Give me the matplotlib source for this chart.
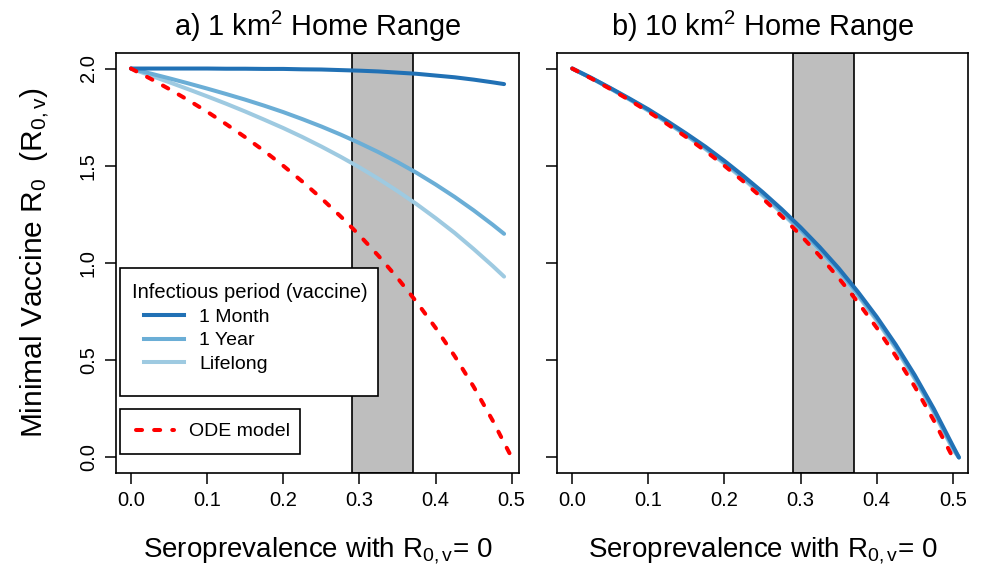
import matplotlib
matplotlib.use("Agg")
import matplotlib.pyplot as plt
from matplotlib.lines import Line2D
from matplotlib.patches import Rectangle
from matplotlib.legend_handler import HandlerLine2D

plt.rcParams['font.family'] = ['Liberation Sans', 'DejaVu Sans']
plt.rcParams['mathtext.fontset'] = 'custom'
plt.rcParams['mathtext.rm'] = 'Liberation Sans'
plt.rcParams['mathtext.it'] = 'Liberation Sans:italic'

# seroprevalence grids
x_left = [0, .025, .05, .075, .1, .125, .15, .175, .2, .225, .25, .275,
          .3, .325, .35, .375, .4, .425, .45, .475, .49]
x_ode = [0, .025, .05, .075, .1, .125, .15, .175, .2, .225, .25, .275,
         .3, .325, .35, .375, .4, .425, .45, .475, .5]
x_right = [0, .025, .05, .075, .1, .125, .15, .175, .2, .225, .25, .275,
           .3, .325, .35, .375, .4, .425, .45, .475, .5, .508]

# a) 1 km2 home range
month_1km = [2.000, 2.000, 2.000, 2.000, 2.000, 1.999, 1.999, 1.998, 1.998, 1.996, 1.995,
             1.992, 1.989, 1.985, 1.979, 1.973, 1.964, 1.955, 1.943, 1.929, 1.920]
year_1km = [2.0, 1.975, 1.950, 1.924, 1.897, 1.869, 1.840, 1.809, 1.776, 1.740, 1.702,
            1.661, 1.617, 1.570, 1.519, 1.464, 1.404, 1.340, 1.271, 1.197, 1.150]
life_1km = [2.0, 1.965, 1.930, 1.894, 1.857, 1.819, 1.779, 1.737, 1.694, 1.648, 1.599,
            1.547, 1.492, 1.433, 1.370, 1.303, 1.231, 1.155, 1.072, 0.985, 0.930]

# ODE model (same in both panels)
ode = [2.0, 1.949, 1.895, 1.838, 1.778, 1.714, 1.647, 1.576, 1.5, 1.419, 1.333,
       1.241, 1.143, 1.037, 0.923, 0.8, 0.667, 0.522, 0.364, 0.19, 0.0]

# b) 10 km2 home range
month_10km = [2.0, 1.952, 1.900, 1.846, 1.790, 1.729, 1.665, 1.598, 1.525, 1.447, 1.365,
              1.277, 1.183, 1.082, 0.973, 0.853, 0.723, 0.580, 0.423, 0.250, 0.060, 0.0]
year_10km = [2.0, 1.951, 1.898, 1.843, 1.786, 1.724, 1.659, 1.591, 1.517, 1.438, 1.355,
             1.266, 1.172, 1.071, 0.962, 0.842, 0.712, 0.569, 0.412, 0.240, 0.050, 0.0]
life_10km = [2.0, 1.951, 1.897, 1.841, 1.783, 1.721, 1.655, 1.586, 1.511, 1.431, 1.347,
             1.258, 1.164, 1.063, 0.954, 0.834, 0.704, 0.561, 0.404, 0.232, 0.042, 0.0]

band = (0.29, 0.37)
x_ticks = [0.0, 0.1, 0.2, 0.3, 0.4, 0.5]
y_ticks = [0.0, 0.5, 1.0, 1.5, 2.0]

colors = {'month': '#2171B5', 'year': '#6BAED6', 'life': '#9ECAE1', 'ode': '#FF0000'}
LW = 2.9

fig = plt.figure(figsize=(9.85, 5.69), dpi=100)
ax1 = fig.add_axes([0.1178, 0.1687, 0.4091, 0.7382])
ax2 = fig.add_axes([0.5655, 0.1687, 0.4173, 0.7382])


def style_axis(ax, xlim, show_ylabels):
    ax.axvspan(band[0], band[1], facecolor='#BEBEBE', edgecolor='black', lw=1.2, zorder=1)
    ax.set_xlim(*xlim)
    ax.set_ylim(-0.08, 2.08)
    ax.set_xticks(x_ticks)
    ax.set_xticklabels([f'{t:.1f}' for t in x_ticks])
    ax.set_yticks(y_ticks)
    if show_ylabels:
        ax.set_yticklabels([f'{t:.1f}' for t in y_ticks], rotation=90, va='center')
    else:
        ax.set_yticklabels([])
    ax.tick_params(direction='out', length=8, width=1.1, labelsize=14.5, pad=5)
    for s in ax.spines.values():
        s.set_linewidth(1.2)
    ax.set_xlabel('Seroprevalence with R$_\\mathrm{0,v}$= 0', fontsize=20, labelpad=18)


def draw_curves(ax, x, life, year, month):
    ax.plot(x, life, color=colors['life'], lw=LW, solid_capstyle='round', zorder=3)
    ax.plot(x, year, color=colors['year'], lw=LW, solid_capstyle='round', zorder=3)
    ax.plot(x, month, color=colors['month'], lw=LW, solid_capstyle='round', zorder=3)
    ax.plot(x_ode, ode, color=colors['ode'], lw=LW, dashes=(1.5, 3.0),
            dash_capstyle='round', zorder=4)


# panel a
style_axis(ax1, (-0.0196, 0.5096), True)
draw_curves(ax1, x_left, life_1km, year_1km, month_1km)
ax1.set_title('a) 1 km$^\\mathrm{2}$ Home Range', fontsize=20.8, pad=12)
ax1.set_ylabel('Minimal Vaccine R$_\\mathrm{0}$  (R$_\\mathrm{0,v}$)', fontsize=21.5, labelpad=20)

# panel b
style_axis(ax2, (-0.02, 0.52), False)
draw_curves(ax2, x_right, life_10km, year_10km, month_10km)
ax2.set_title('b) 10 km$^\\mathrm{2}$ Home Range', fontsize=20.8, pad=12)

# legend boxes (R style, square)
for (x0, y0, w, h) in [(0.0099, 0.1833, 0.640, 0.3048), (0.0099, 0.0452, 0.4467, 0.107)]:
    ax1.add_patch(Rectangle((x0, y0), w, h, transform=ax1.transAxes, facecolor='white',
                            edgecolor='black', lw=1.2, zorder=9))

period_handles = [Line2D([], [], color=colors['month'], lw=LW),
                  Line2D([], [], color=colors['year'], lw=LW),
                  Line2D([], [], color=colors['life'], lw=LW)]
leg1 = ax1.legend(period_handles, ['1 Month', '1 Year', 'Lifelong'],
                  title='Infectious period (vaccine)', title_fontsize=14.5, fontsize=14,
                  loc='upper center', bbox_to_anchor=(0.332, 0.476), alignment='left',
                  frameon=False, borderpad=0.5, labelspacing=0.32,
                  handlelength=3.3, handletextpad=0.15, borderaxespad=0,
                  numpoints=2, handler_map={Line2D: HandlerLine2D(marker_pad=0.62)})
leg1.set_zorder(10)
ax1.add_artist(leg1)

ode_handle = Line2D([], [], color=colors['ode'], lw=LW, dashes=(1.5, 3.0), dash_capstyle='round')
leg2 = ax1.legend([ode_handle], ['ODE model'], fontsize=14,
                  loc='center left', bbox_to_anchor=(0.0496, 0.0988),
                  frameon=False, borderpad=0, handlelength=1.95, handletextpad=0.8,
                  borderaxespad=0)
leg2.set_zorder(10)

fig.savefig('out.png', dpi=100, facecolor='white')
